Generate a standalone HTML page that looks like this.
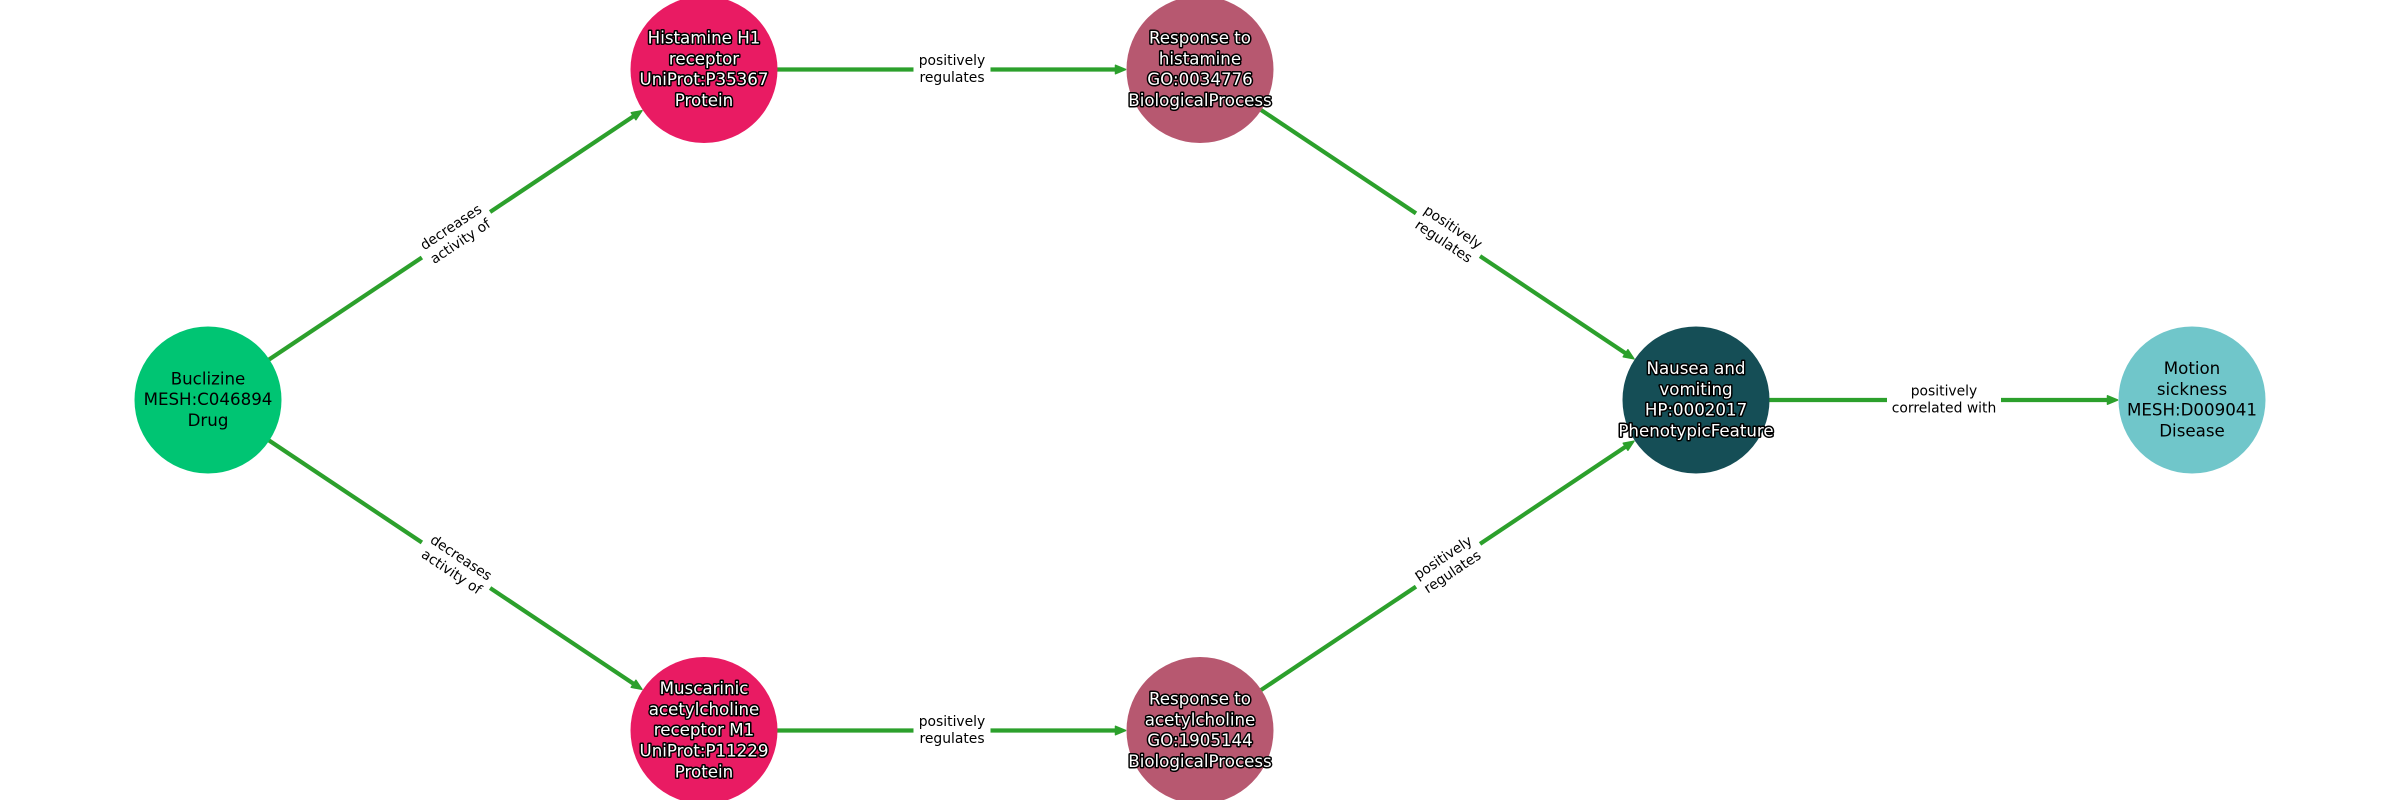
<!DOCTYPE html>
<html>
<head>
<meta charset="utf-8">
<style>
html,body{margin:0;padding:0;background:#fff}
svg{display:block}
text{font-family:"DejaVu Sans","Liberation Sans",sans-serif;text-anchor:middle}
.n{font-size:16.67px;fill:#000}
.w{font-size:16.67px;fill:#fff;stroke:#000;stroke-width:3px;paint-order:stroke fill;stroke-linejoin:round}
.e{font-size:13.89px;fill:#000}
.l{stroke:#2ca02c;stroke-width:4.2;fill:none}
.h{fill:#2ca02c;stroke:#2ca02c;stroke-width:1.5;stroke-linejoin:round}
</style>
</head>
<body>
<svg width="2400" height="800" viewBox="0 0 2400 800" xmlns="http://www.w3.org/2000/svg">
<rect width="2400" height="800" fill="#fff"/>

<!-- diagonal edges -->
<g transform="translate(456,234.75) rotate(-33.72)">
  <line class="l" x1="-298" y1="0" x2="215" y2="0"/><polygon class="h" points="223.5,0 213.5,-4.2 213.5,4.2"/>
  <rect x="-41" y="-24" width="82" height="48" fill="#fff"/>
  <text class="e" y="-4.5">decreases</text><text class="e" y="12.5">activity of</text>
</g>
<g transform="translate(456,565.25) rotate(33.72)">
  <line class="l" x1="-298" y1="0" x2="215" y2="0"/><polygon class="h" points="223.5,0 213.5,-4.2 213.5,4.2"/>
  <rect x="-41" y="-24" width="82" height="48" fill="#fff"/>
  <text class="e" y="-4.5">decreases</text><text class="e" y="12.5">activity of</text>
</g>
<g transform="translate(1448,234.75) rotate(33.72)">
  <line class="l" x1="-298" y1="0" x2="215" y2="0"/><polygon class="h" points="223.5,0 213.5,-4.2 213.5,4.2"/>
  <rect x="-38.5" y="-24" width="77" height="48" fill="#fff"/>
  <text class="e" y="-4.5">positively</text><text class="e" y="12.5">regulates</text>
</g>
<g transform="translate(1448,565.25) rotate(-33.72)">
  <line class="l" x1="-298" y1="0" x2="215" y2="0"/><polygon class="h" points="223.5,0 213.5,-4.2 213.5,4.2"/>
  <rect x="-38.5" y="-24" width="77" height="48" fill="#fff"/>
  <text class="e" y="-4.5">positively</text><text class="e" y="12.5">regulates</text>
</g>

<!-- horizontal edges -->
<g transform="translate(952,69.5)">
  <line class="l" x1="-248" y1="0" x2="165" y2="0"/><polygon class="h" points="173.5,0 163.5,-4.2 163.5,4.2"/>
  <rect x="-38.5" y="-24" width="77" height="48" fill="#fff"/>
  <text class="e" y="-4.5">positively</text><text class="e" y="12.5">regulates</text>
</g>
<g transform="translate(952,730.5)">
  <line class="l" x1="-248" y1="0" x2="165" y2="0"/><polygon class="h" points="173.5,0 163.5,-4.2 163.5,4.2"/>
  <rect x="-38.5" y="-24" width="77" height="48" fill="#fff"/>
  <text class="e" y="-4.5">positively</text><text class="e" y="12.5">regulates</text>
</g>
<g transform="translate(1944,400)">
  <line class="l" x1="-248" y1="0" x2="165" y2="0"/><polygon class="h" points="173.5,0 163.5,-4.2 163.5,4.2"/>
  <rect x="-57" y="-24" width="114" height="48" fill="#fff"/>
  <text class="e" y="-4.5">positively</text><text class="e" y="12.5">correlated with</text>
</g>

<!-- nodes -->
<circle cx="208" cy="400" r="73.5" fill="#00c573"/>
<circle cx="704" cy="69.5" r="73.5" fill="#e91b63"/>
<circle cx="1200" cy="69.5" r="73.5" fill="#b75870"/>
<circle cx="1696" cy="400" r="73.5" fill="#154e56"/>
<circle cx="2192" cy="400" r="73.5" fill="#70c6ca"/>
<circle cx="704" cy="730.5" r="73.5" fill="#e91b63"/>
<circle cx="1200" cy="730.5" r="73.5" fill="#b75870"/>

<!-- node labels -->
<text class="n" x="208" y="384.4">Buclizine</text>
<text class="n" x="208" y="405.2">MESH:C046894</text>
<text class="n" x="208" y="426">Drug</text>

<text class="w" x="704" y="43.5">Histamine H1</text>
<text class="w" x="704" y="64.3">receptor</text>
<text class="w" x="704" y="85.1">UniProt:P35367</text>
<text class="w" x="704" y="105.9">Protein</text>

<text class="w" x="1200" y="43.5">Response to</text>
<text class="w" x="1200" y="64.3">histamine</text>
<text class="w" x="1200" y="85.1">GO:0034776</text>
<text class="w" x="1200" y="105.9">BiologicalProcess</text>

<text class="w" x="1696" y="374">Nausea and</text>
<text class="w" x="1696" y="394.8">vomiting</text>
<text class="w" x="1696" y="415.6">HP:0002017</text>
<text class="w" x="1696" y="436.4">PhenotypicFeature</text>

<text class="n" x="2192" y="374">Motion</text>
<text class="n" x="2192" y="394.8">sickness</text>
<text class="n" x="2192" y="415.6">MESH:D009041</text>
<text class="n" x="2192" y="436.4">Disease</text>

<text class="w" x="704" y="694.1">Muscarinic</text>
<text class="w" x="704" y="714.9">acetylcholine</text>
<text class="w" x="704" y="735.7">receptor M1</text>
<text class="w" x="704" y="756.5">UniProt:P11229</text>
<text class="w" x="704" y="777.3">Protein</text>

<text class="w" x="1200" y="704.5">Response to</text>
<text class="w" x="1200" y="725.3">acetylcholine</text>
<text class="w" x="1200" y="746.1">GO:1905144</text>
<text class="w" x="1200" y="766.9">BiologicalProcess</text>
</svg>
</body>
</html>
